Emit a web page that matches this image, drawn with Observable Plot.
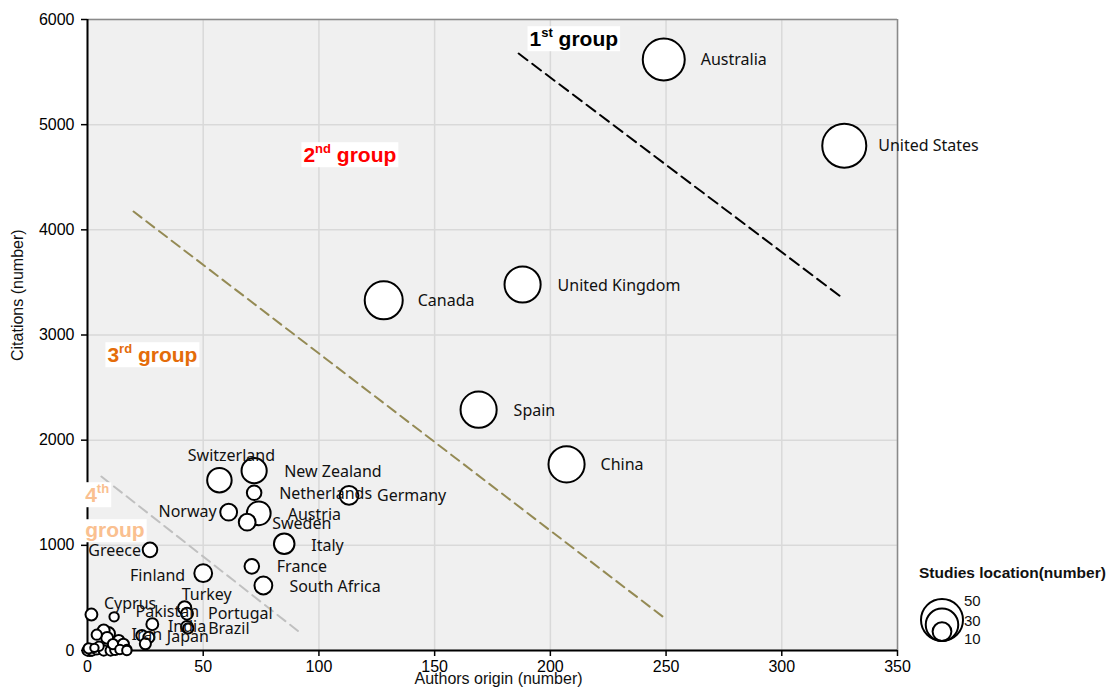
<!DOCTYPE html>
<html>
<head>
<meta charset="utf-8">
<script src="https://cdn.jsdelivr.net/npm/d3@7"></script>
<script src="https://cdn.jsdelivr.net/npm/@observablehq/plot@0.6"></script>
<style>
  body { margin: 0; background: #fff; }
  #chart { width: 1116px; height: 693px; }
</style>
</head>
<body>
<div id="chart"></div>
<script>
// ---------------- DATA ----------------
const countries = ["Australia","United States","United Kingdom","Canada","Spain","China",
  "Switzerland","New Zealand","Netherlands","Germany","Norway","Austria","Sweden","Italy",
  "Greece","France","Finland","South Africa","Turkey","Portugal","Pakistan","India","Brazil",
  "Iran","Japan","Cyprus",
  "","","","","","","","","","","","","","","","","","","","","",""];
const authorsOrigin = [249,327,188,128,169,207,
  57,72,72,113,61,74,69,85,
  27,71,50,76,42,43,28,43,43.5,
  23.5,26.5,11.5,
  1.7,25,7,9,4,8.5,13.5,15.5,17,0,1,2,4,7,10,12,14,17,0.5,5,11,3];
const citations = [5620,4800,3480,3330,2290,1770,
  1620,1710,1500,1475,1315,1305,1220,1015,
  957,800,735,618,405,350,250,225,210,
  143,125,320,
  342,64,190,160,150,120,95,60,10,0,5,0,10,0,0,5,10,0,20,40,60,25];
const studiesLocation = [50,55,37,41,37,37,
  17,18,6,10,8,16,8,12,
  6,6,9,9,5,4,4,4,3,
  3.5,3.5,2.5,
  4,3.5,4,5,3,4,3.5,3.5,2.5,3,4,3,3,3,3,3,2.5,2.5,3,2.5,3,2];

const xTicks = [0,50,100,150,200,250,300,350];
const yTicks = [0,1000,2000,3000,4000,5000,6000];
const legendValues = [50,30,10];

// group boundary lines (start / end points)
const line1X = [186.3, 325.4], line1Y = [5676, 3366];
const line2X = [19.9, 248.5],  line2Y = [4174, 323];
const line3X = [6, 91.2],      line3Y = [1654, 181];

// group annotations: "main^sup^rest"
const groupTexts = ["1^st^ group","2^nd^ group","3^rd^ group","4^th^","group"];
const groupX = [191, 93.3, 8.6, -1, -1];
const groupY = [5810, 4707, 2805, 1474, 1141];
const groupColors = ["#000000","#ff0000","#e46c0a","#fac090","#fac090"];

// ---------------- LAYOUT (label offsets, px) ----------------
const labelStyle = {
  "Australia": ["start", 37, 0], "United States": ["start", 34, 0],
  "United Kingdom": ["start", 35, 1], "Canada": ["start", 34, 1],
  "Spain": ["start", 35, 1], "China": ["start", 34, 1],
  "Switzerland": ["middle", 12, -24], "New Zealand": ["start", 30, 1],
  "Netherlands": ["start", 25, 1], "Germany": ["start", 28, 0],
  "Norway": ["end", -12, 0], "Austria": ["start", 29, 2],
  "Sweden": ["start", 25, 2], "Italy": ["start", 27, 2],
  "Greece": ["end", -9, 1], "France": ["start", 25, 1],
  "Finland": ["end", -18, 3], "South Africa": ["start", 26, 1],
  "Turkey": ["start", -3, -13], "Portugal": ["start", 21, 0],
  "Pakistan": ["middle", 15, -12], "India": ["middle", 0, 0],
  "Brazil": ["start", 20, 0], "Iran": ["middle", 5, -1],
  "Japan": ["start", 18, 0], "Cyprus": ["middle", 16, -13]
};

const data = countries.map((c, i) => ({country: c, x: authorsOrigin[i], y: citations[i], size: studiesLocation[i]}));
const lines = [
  ...line1X.map((x, i) => ({g: 1, x, y: line1Y[i]})),
  ...line2X.map((x, i) => ({g: 2, x, y: line2Y[i]})),
  ...line3X.map((x, i) => ({g: 3, x, y: line3Y[i]}))
];
const groups = groupTexts.map((t, i) => ({t, x: groupX[i], y: groupY[i], color: groupColors[i]}));

const labelFont = "'Noto Sans', 'Open Sans', sans-serif";
const axisFont = "'Liberation Sans', Arial, sans-serif";

const labelMarks = data.filter(d => d.country).map(d => {
  const [anchor, dx, dy] = labelStyle[d.country];
  return Plot.text([d], {x: "x", y: "y", text: "country", textAnchor: anchor, dx, dy,
    fontFamily: labelFont, fontSize: 16, fill: "#111"});
});

const groupMarks = groups.map(g => Plot.text([g], {x: "x", y: "y", text: "t", textAnchor: "start",
  fontFamily: axisFont, fontSize: 21, fontWeight: "bold", fill: g.color}));

const plot = Plot.plot({
  width: 1116, height: 693,
  marginLeft: 87, marginRight: 219, marginTop: 19, marginBottom: 43,
  style: {fontFamily: axisFont, fontSize: "16px", color: "#000", background: "#fff"},
  x: {domain: [0, 350]},
  y: {domain: [0, 6000]},
  r: {type: "sqrt", domain: [0, 50], range: [0, 21]},
  marks: [
    Plot.frame({fill: "#f0f0f0", stroke: null}),
    Plot.gridX(xTicks, {stroke: "#d9d9d9", strokeOpacity: 1, strokeWidth: 1.5}),
    Plot.gridY(yTicks, {stroke: "#d9d9d9", strokeOpacity: 1, strokeWidth: 1.5}),
    Plot.ruleY([6000], {stroke: "#8a8a8a", strokeWidth: 1.5}),
    Plot.ruleX([350], {stroke: "#8a8a8a", strokeWidth: 1.5}),
    Plot.axisX({ticks: xTicks, tickSize: 6, tickPadding: 4, label: null, tickFormat: "d",
      fontSize: 16, strokeWidth: 1.5}),
    Plot.axisY({ticks: yTicks, tickSize: 6, tickPadding: 7, label: null, tickFormat: "d",
      fontSize: 16, strokeWidth: 1.5}),
    Plot.ruleY([0], {stroke: "#000", strokeWidth: 2}),
    Plot.ruleX([0], {stroke: "#000", strokeWidth: 2}),
    Plot.line(lines.filter(d => d.g === 1), {x: "x", y: "y", stroke: "#000", strokeWidth: 2, strokeDasharray: "11,6"}),
    Plot.line(lines.filter(d => d.g === 2), {x: "x", y: "y", stroke: "#948a54", strokeWidth: 2, strokeDasharray: "10,6"}),
    Plot.line(lines.filter(d => d.g === 3), {x: "x", y: "y", stroke: "#c0c0c0", strokeWidth: 2, strokeDasharray: "10,6"}),
    Plot.dot(data, {x: "x", y: "y", r: "size", fill: "#fff", stroke: "#000", strokeWidth: 2}),
    ...labelMarks,
    ...groupMarks,
    Plot.text(["Authors origin (number)"], {frameAnchor: "bottom", text: d => d, dy: 33, dx: 6,
      fontFamily: axisFont, fontSize: 16, fill: "#111"}),
    Plot.text(["Citations (number)"], {frameAnchor: "left", text: d => d, rotate: -90, dx: -70, dy: 26,
      fontFamily: axisFont, fontSize: 16, fill: "#111"})
  ]
});

document.getElementById("chart").appendChild(plot);

// superscripts + white boxes behind group labels
const svgNode = plot.tagName.toLowerCase() === "svg" ? plot : plot.querySelector("svg");
const svg = d3.select(svgNode);
const plainGroupTexts = groupTexts.map(s => s.split("^").join(""));
svg.selectAll("text").filter(function () { return this.textContent.includes("^"); }).each(function () {
  const t = d3.select(this);
  const parts = this.textContent.split("^");
  t.text(null);
  t.append("tspan").text(parts[0]);
  t.append("tspan").attr("font-size", 13).attr("dy", -9).text(parts[1]);
  if (parts[2]) t.append("tspan").attr("dy", 9).text(parts[2]);
});
svg.selectAll("text").filter(function () {
  return plainGroupTexts.includes(this.textContent);
}).each(function () {
  const t = d3.select(this);
  const bb = this.getBBox();
  d3.select(this.parentNode).insert("rect", () => this)
    .attr("transform", t.attr("transform"))
    .attr("x", bb.x - 2).attr("y", bb.y + 1)
    .attr("width", bb.width + 4).attr("height", bb.height)
    .attr("fill", "#fff");
});

// bubble-size legend, drawn with the plot's own r scale
const rScale = plot.scale("r");
const lg = svg.append("g").attr("font-family", axisFont).attr("text-anchor", "start");
lg.append("text").attr("x", 919).attr("y", 573).attr("dy", "0.35em")
  .attr("font-size", 15.5).attr("font-weight", "bold").attr("fill", "#111")
  .text("Studies location(number)");
const base = 641, cx = 942;
legendValues.forEach(v => {
  const r = rScale.apply(v);
  lg.append("circle").attr("cx", cx).attr("cy", base - r).attr("r", r)
    .attr("fill", "none").attr("stroke", "#000").attr("stroke-width", 2);
});
const legendLabelY = [601, 621, 639];
legendValues.forEach((v, i) => {
  lg.append("text").attr("x", 964).attr("y", legendLabelY[i]).attr("dy", "0.35em")
    .attr("font-size", 15).attr("fill", "#111").text(v);
});
</script>
</body>
</html>
